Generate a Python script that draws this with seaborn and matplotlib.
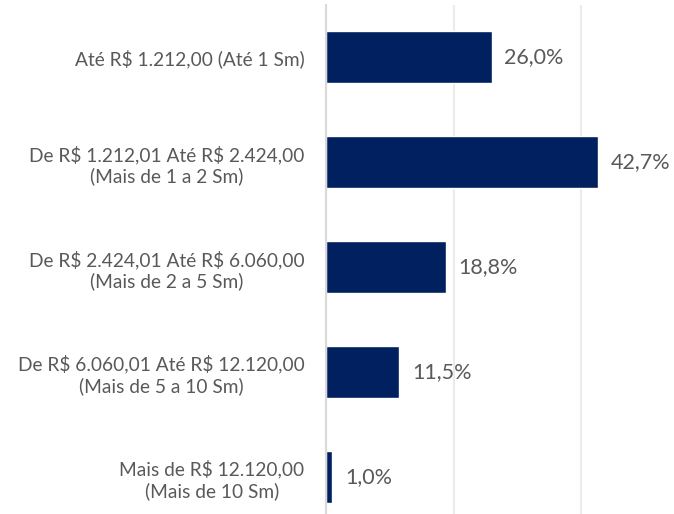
import matplotlib
matplotlib.use("Agg")
import matplotlib.pyplot as plt
import seaborn as sns
import pandas as pd

faixas = [
    "Até R$ 1.212,00 (Até 1 Sm)",
    "De R$ 1.212,01 Até R$ 2.424,00\n(Mais de 1 a 2 Sm)",
    "De R$ 2.424,01 Até R$ 6.060,00\n(Mais de 2 a 5 Sm)",
    "De R$ 6.060,01 Até R$ 12.120,00\n(Mais de 5 a 10 Sm)",
    "Mais de R$ 12.120,00\n(Mais de 10 Sm)",
]
percentuais = [26.0, 42.7, 18.8, 11.5, 1.0]
rotulos = ["26,0%", "42,7%", "18,8%", "11,5%", "1,0%"]

# escape $ so matplotlib does not read it as mathtext
df = pd.DataFrame({"faixa": [f.replace("$", r"\$") for f in faixas],
                   "pct": percentuais})

sns.set_style("white")
plt.rcParams["font.family"] = ["Lato", "DejaVu Sans"]

fig = plt.figure(figsize=(6.74, 5.14), dpi=100)
ax = fig.add_axes([0.4837, -0.030, 0.568, 1.021])

sns.barplot(data=df, y="faixa", x="pct", orient="h", color="#002060",
            saturation=1, width=0.5, ax=ax)

ax.set_xlim(0, 60)
ax.set_xticks([0, 20, 40, 60])
ax.xaxis.grid(True, color="#EBEBEB", linewidth=1.5)
ax.set_axisbelow(True)
ax.tick_params(axis="x", bottom=False, labelbottom=False)
ax.tick_params(axis="y", left=False, pad=12, labelsize=13.8, labelcolor="#595959")
for lbl in ax.get_yticklabels():
    lbl.set_multialignment("center")
ax.set_xlabel("")
ax.set_ylabel("")
for side in ["top", "right", "bottom"]:
    ax.spines[side].set_visible(False)
ax.spines["left"].set_color("#D9D9D9")
ax.spines["left"].set_linewidth(1.5)

for i, (v, t) in enumerate(zip(percentuais, rotulos)):
    ax.annotate(t, (v, i), xytext=(9, 0), textcoords="offset points",
                va="center", ha="left", fontsize=15.5, color="#595959")

fig.savefig("out.png", dpi=100)
